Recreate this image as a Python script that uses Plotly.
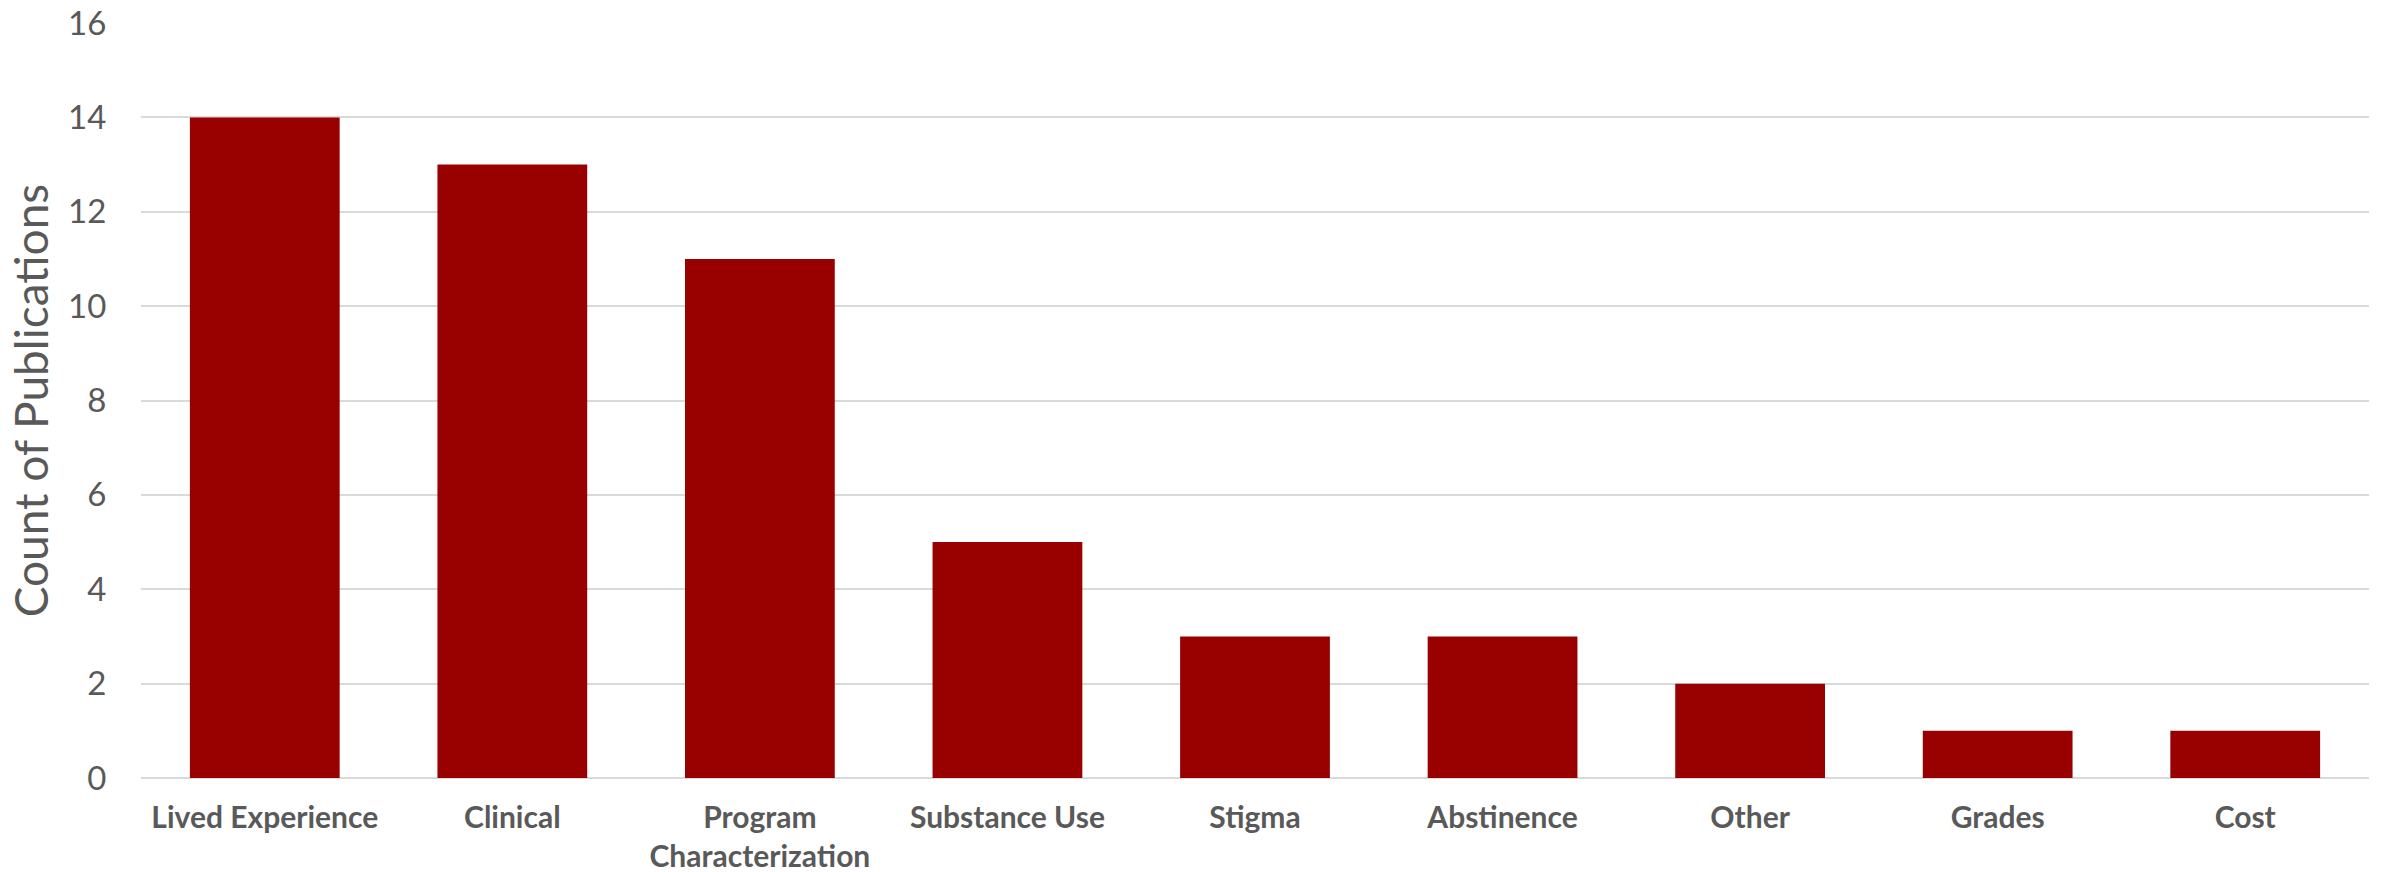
import plotly.graph_objects as go

categories = ["Lived Experience", "Clinical", "Program<br>Characterization", "Substance Use",
              "Stigma", "Abstinence", "Other", "Grades", "Cost"]
counts = [14, 13, 11, 5, 3, 3, 2, 1, 1]
y_ticks = [0, 2, 4, 6, 8, 10, 12, 14, 16]

fig = go.Figure(go.Bar(x=categories, y=counts, marker=dict(color="#990000", line=dict(width=0))))

fig.update_layout(
    width=2395, height=872,
    margin=dict(l=141, r=26, t=23, b=94),
    paper_bgcolor="white", plot_bgcolor="white",
    bargap=0.395,
    font=dict(family="Lato", color="#595959"),
    showlegend=False,
)
fig.update_xaxes(
    automargin=False,
    tickfont=dict(family="Lato", size=30, color="#595959", weight="bold"),
    showline=False, showgrid=False,
    ticks="outside", ticklen=13, tickcolor="rgba(0,0,0,0)",
)
fig.update_yaxes(
    automargin=False,
    range=[0, 16], tickvals=y_ticks, ticktext=[str(v) for v in y_ticks],
    showgrid=True, gridcolor="#d9d9d9", gridwidth=2,
    zeroline=True, zerolinecolor="#d9d9d9", zerolinewidth=2,
    tickfont=dict(family="Lato", size=33, color="#595959"),
    ticks="outside", ticklen=27, tickcolor="rgba(0,0,0,0)",
    title=dict(text="Count of Publications", font=dict(family="Lato", size=46, color="#595959"), standoff=5),
)

fig.write_html("out.html")
